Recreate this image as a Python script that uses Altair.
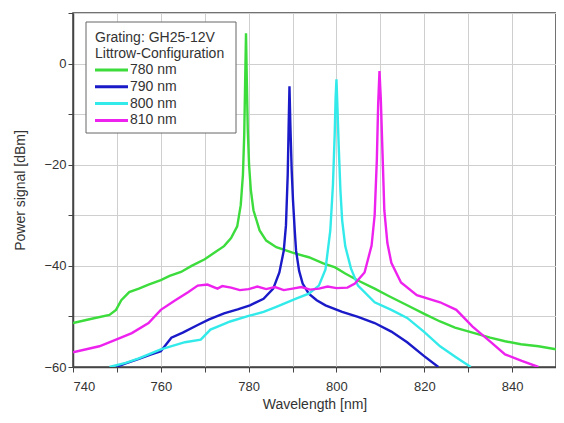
import altair as alt
import pandas as pd

series_names = ["780 nm", "790 nm", "800 nm", "810 nm"]
series_colors = ["#3ddc3d", "#1a1ac8", "#33eaea", "#ee22ee"]
legend_title = ["Grating: GH25-12V", "Littrow-Configuration"]

wl_780 = [740, 744, 748.3, 749.8, 751, 752.8, 755, 757.2, 760, 762, 764.6, 767, 770, 772, 774.4, 776, 777.4,
          778.2, 778.7, 779.0, 779.2, 779.4, 779.6, 779.8, 780.1, 780.5, 781.1, 782.5, 784, 786.3, 790, 793.7,
          797, 799.7, 802, 804.9, 808.7, 812, 816.1, 820, 823.6, 827, 831, 835, 838.4, 842, 846, 850]
pw_780 = [-51.3, -50.5, -49.7, -48.7, -46.8, -45.2, -44.5, -43.7, -42.8, -42.0, -41.2, -40.0, -38.7, -37.5,
          -36.1, -34.5, -32.2, -28, -22, -14, -4, 6, -4, -13, -20, -25, -29, -33, -35, -36.3, -37.4, -38.3,
          -39.5, -40.3, -41.5, -42.9, -44.5, -46.0, -47.8, -49.5, -51.0, -52.2, -53.2, -54.2, -54.9, -55.5,
          -55.9, -56.5]

wl_790 = [749.8, 752, 755, 757.5, 760, 762.4, 765, 768.4, 771, 774.4, 777.5, 780.3, 783.4, 785.6, 787, 788,
          788.5, 788.9, 789.1, 789.3, 789.5, 789.8, 790.1, 790.5, 790.8, 791.5, 792.3, 793.7, 795.5, 797.5,
          801.3, 804.9, 808.7, 812.5, 816.1, 819.9, 823.2]
pw_790 = [-60, -59.3, -58.4, -57.6, -56.9, -54.2, -53.2, -51.7, -50.6, -49.4, -48.6, -47.8, -46.5, -44.5,
          -41.3, -37, -32, -22, -13, -4.5, -12, -21, -27, -33, -37, -41, -43.5, -45.5, -46.8, -47.8, -49.1,
          -50.1, -51.3, -53, -55.1, -57.8, -60]

wl_800 = [748.3, 752, 755, 760, 765.5, 769.1, 771.3, 773.5, 775.8, 780, 783.4, 786.3, 790.8, 793.7, 796,
          797.5, 798.6, 799.2, 799.6, 799.8, 800.0, 800.2, 800.5, 800.9, 801.3, 802, 803.3, 804.9, 808.7,
          812.5, 816.1, 819.9, 823.6, 827.3, 830.6]
pw_800 = [-60, -59.2, -58.3, -56.5, -55.1, -54.6, -52.6, -51.8, -51, -49.9, -49.1, -48.1, -46.5, -45.5,
          -43.9, -40.7, -33, -24, -14, -7, -3.1, -8, -16, -25, -31, -36.1, -40.5, -43.9, -47.2, -48.7, -50.3,
          -53, -55.9, -58.1, -60]

wl_810 = [740, 746, 749.8, 753.4, 757.2, 760, 763.3, 766.2, 768.4, 770.6, 772.9, 774, 776, 778, 780, 782,
          784, 786, 788, 790, 792, 794, 796, 798, 800, 802.5, 804.2, 806.4, 808, 808.7, 809.2, 809.5, 809.8,
          810.1, 810.5, 810.9, 811.6, 812.5, 814.7, 818.3, 823.6, 827.3, 831, 834.9, 838.4, 842.2, 846]
pw_810 = [-57.1, -55.9, -54.6, -53.3, -51.3, -48.7, -46.8, -45.2, -43.9, -43.7, -44.5, -44.0, -44.3, -44.8,
          -44.6, -44.1, -44.6, -44.2, -44.8, -44.5, -44.2, -44.7, -44.5, -44.1, -44.4, -44.3, -43.5, -41.3,
          -36, -30, -19, -8, -1.5, -7, -18, -29, -35.5, -39.4, -43.3, -45.8, -47.2, -48.7, -52, -54.9, -57.5,
          -58.8, -60]

rows = []
for name, wl, pw in zip(series_names, [wl_780, wl_790, wl_800, wl_810], [pw_780, pw_790, pw_800, pw_810]):
    for i, (a, b) in enumerate(zip(wl, pw)):
        rows.append({"series": name, "wavelength": a, "power": b, "order": i})
df = pd.DataFrame(rows)

font = "Liberation Sans"

lines = alt.Chart(df).mark_line(strokeWidth=2.4, clip=True).encode(
    x=alt.X("wavelength:Q", title="Wavelength [nm]",
            scale=alt.Scale(domain=[740, 850], nice=False, zero=False),
            axis=alt.Axis(values=list(range(740, 851, 10)),
                          labelExpr="datum.value % 20 == 0 ? datum.label : ''",
                          labelPadding=8, titlePadding=4)),
    y=alt.Y("power:Q", title="Power signal [dBm]",
            scale=alt.Scale(domain=[-60, 10], nice=False, zero=False),
            axis=alt.Axis(values=list(range(-60, 11, 10)),
                          labelExpr="datum.value % 20 == 0 ? datum.label : ''",
                          titlePadding=16)),
    color=alt.Color("series:N", scale=alt.Scale(domain=series_names, range=series_colors), legend=None),
    order="order:Q",
)

one = pd.DataFrame({"k": [0]})
layers = [lines]
layers.append(alt.Chart(one).mark_rect(fill="white", stroke="#666", strokeWidth=1).encode(
    x=alt.value(13), x2=alt.value(163), y=alt.value(9), y2=alt.value(120)))
for i, t in enumerate(legend_title):
    layers.append(alt.Chart(pd.DataFrame({"t": [t]})).mark_text(
        font=font, fontSize=14, color="#333", align="left", baseline="middle").encode(
        text="t:N", x=alt.value(22), y=alt.value(25 + 15.5 * i)))
for i, (name, col) in enumerate(zip(series_names, series_colors)):
    yy = 57 + 16.8 * i
    layers.append(alt.Chart(pd.DataFrame({"t": [name]})).mark_rule(color=col, strokeWidth=3).encode(
        x=alt.value(22), x2=alt.value(55), y=alt.value(yy)))
    layers.append(alt.Chart(pd.DataFrame({"t": [name]})).mark_text(
        font=font, fontSize=14, color="#333", align="left", baseline="middle").encode(
        text="t:N", x=alt.value(57), y=alt.value(yy)))

chart = alt.layer(*layers).properties(
    width=483, height=354,
    autosize=alt.AutoSizeParams(type="none"),
    padding={"left": 65, "top": 5, "right": 0, "bottom": 48},
).configure_view(
    stroke="#444", strokeWidth=1.5
).configure_axis(
    labelFont=font, titleFont=font, labelFontSize=13, titleFontSize=14,
    labelColor="#333", titleColor="#333", titleFontWeight="normal",
    domainColor="#444", domainWidth=1.5, tickColor="#444", tickSize=5,
    gridColor="#cfcfcf", gridWidth=1,
)

chart.save("out.html", embed_options={"renderer": "svg", "actions": False})
